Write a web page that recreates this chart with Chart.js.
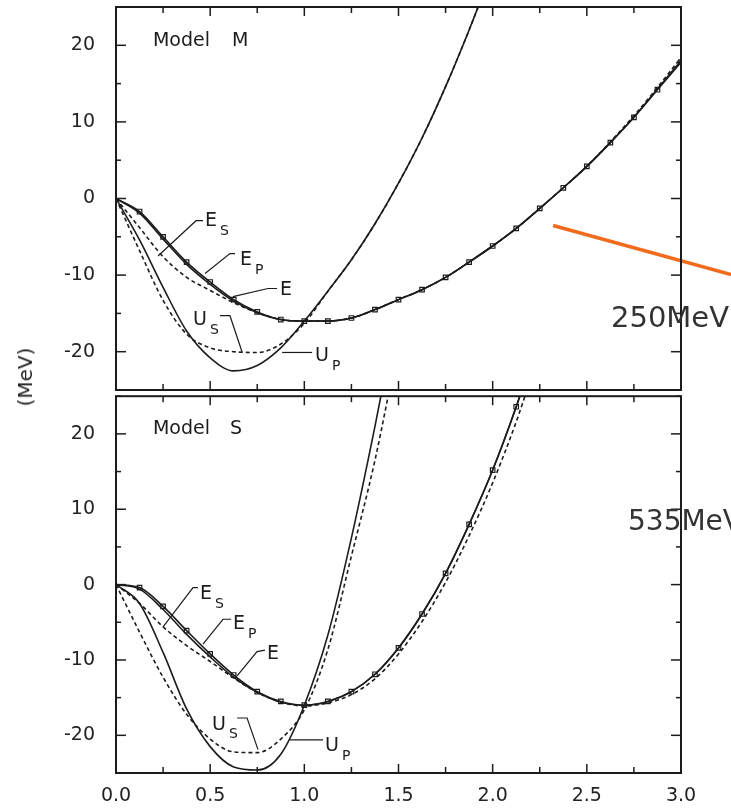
<!DOCTYPE html>
<html>
<head>
<meta charset="utf-8">
<title>Model M / Model S</title>
<script src="https://cdn.jsdelivr.net/npm/chart.js@4.4.0/dist/chart.umd.min.js"></script>
<style>
  html, body { margin: 0; padding: 0; background: #fff; }
  body { width: 731px; height: 810px; position: relative; overflow: hidden; font-family: 'DejaVu Sans', sans-serif; }
  .panel { position: absolute; left: 0; width: 731px; }
  #topPanel { top: 0; height: 400px; }
  #botPanel { top: 391px; height: 419px; }
  .note { position: absolute; color: #333; white-space: nowrap; z-index: 2; }
  #unit { left: 25px; top: 377px; font-size: 20px; color: #222; transform: translate(-50%, -50%) rotate(-90deg); }
</style>
</head>
<body>
<div class="panel" id="topPanel"><canvas id="chartM"></canvas></div>
<div class="panel" id="botPanel"><canvas id="chartS"></canvas></div>
<div class="note" id="unit">(MeV)</div>
<div class="note" style="left:611px; top:300px; font-size:29px; line-height:34px;">250MeV</div>
<div class="note" style="left:628px; top:504px; font-size:28px; line-height:33px;">535MeV</div>
<script>
// x grid shared by every curve (step 0.125)
const xs = [0, 0.125, 0.25, 0.375, 0.5, 0.625, 0.75, 0.875, 1.0, 1.125, 1.25, 1.375, 1.5,
  1.625, 1.75, 1.875, 2.0, 2.125, 2.25, 2.375, 2.5, 2.625, 2.75, 2.875, 3.0];
const xTicks = [0, 0.5, 1.0, 1.5, 2.0, 2.5, 3.0];
const yTicks = [-20, -10, 0, 10, 20];

// Model M
const mE  = [0, -1.7, -5.0, -8.3, -10.9, -13.2, -14.8, -15.8, -16.0, -16.0, -15.6, -14.5, -13.2,
  -11.9, -10.3, -8.3, -6.2, -3.9, -1.3, 1.4, 4.2, 7.3, 10.6, 14.2, 17.8];
const mEp = [0, -1.9, -5.3, -8.6, -11.2, -13.4, -14.9, -15.8, -16.0, -16.0, -15.6, -14.5, -13.2,
  -11.9, -10.3, -8.3, -6.2, -3.9, -1.3, 1.4, 4.2, 7.3, 10.6, 14.3, 18.0];
const mEs = [0, -3.8, -7.6, -10.3, -12.0, -13.6, -14.9, -15.8, -16.0, -16.0, -15.6, -14.5, -13.2,
  -11.9, -10.3, -8.3, -6.2, -3.9, -1.3, 1.4, 4.2, 7.4, 10.8, 14.5, 18.4];
const mUp = [0, -5.4, -11.6, -17.3, -20.8, -22.5, -21.8, -19.5, -16.0, -12.1, -8.0, -3.3, 2.0,
  7.9, 14.6, 22.0, 30.0];
const mUs = [0, -6.8, -13.3, -17.7, -19.5, -20.0, -20.1, -19.0, -16.3, -12.1, -8.0, -3.3, 2.0,
  7.9, 14.6, 22.0, 30.0];

// Model S
const sE  = [0, -0.4, -2.9, -6.1, -9.2, -12.0, -14.2, -15.5, -16.0, -15.5, -14.2, -11.9, -8.4,
  -3.9, 1.5, 8.0, 15.2, 23.6, 33.0];
const sEp = [0, -0.6, -3.3, -6.6, -9.6, -12.3, -14.3, -15.6, -16.0, -15.5, -14.2, -11.9, -8.4,
  -3.9, 1.5, 8.0, 15.2, 23.6, 33.0];
const sEs = [0, -2.5, -5.6, -8.1, -10.2, -12.4, -14.3, -15.6, -16.1, -15.7, -14.6, -12.5, -9.2,
  -4.9, 0.3, 6.5, 13.5, 21.6, 31.0];
const sUp = [0, -2.5, -9.0, -16.5, -21.5, -24.2, -24.6, -22.5, -16.0, -6.7, 6.2, 21.0, 37.0];
const sUs = [0, -6.3, -12.3, -17.2, -20.5, -22.2, -22.3, -20.5, -16.6, -8.6, 3.8, 16.5, 32.0];

const INK = '#1c1c1c';
const FONT = 'DejaVu Sans';

//------------------frame, inward ticks and curve labels------------------
const panelNotes = {
  id: 'panelNotes',
  afterDraw(chart, args, opts) {
    const { ctx, chartArea: a } = chart;
    const x = chart.scales.x, y = chart.scales.y;
    const px = (v) => x.getPixelForValue(v);
    const py = (v) => y.getPixelForValue(v);
    ctx.save();
    ctx.fillStyle = INK;
    ctx.strokeStyle = INK;
    ctx.textBaseline = 'middle';

    // model name
    ctx.font = `19px ${FONT}`;
    opts.model.forEach((m) => ctx.fillText(m.text, px(m.at[0]), py(m.at[1])));

    // curve labels with their pointer lines
    ctx.lineWidth = 1.2;
    opts.labels.forEach((n) => {
      ctx.beginPath();
      n.leader.forEach(([vx, vy], i) => (i ? ctx.lineTo(px(vx), py(vy)) : ctx.moveTo(px(vx), py(vy))));
      ctx.stroke();
      ctx.font = `19px ${FONT}`;
      ctx.fillText(n.main, px(n.at[0]), py(n.at[1]));
      if (n.sub) {
        const w = ctx.measureText(n.main).width;
        ctx.font = `14px ${FONT}`;
        ctx.fillText(n.sub, px(n.at[0]) + w + 3, py(n.at[1]) + 10);
      }
    });

    // orange pointer
    if (opts.pointer) {
      const [p0, p1] = opts.pointer;
      ctx.strokeStyle = '#f26a1b';
      ctx.lineWidth = 3.5;
      ctx.beginPath();
      ctx.moveTo(px(p0[0]), py(p0[1]));
      ctx.lineTo(px(p1[0]), py(p1[1]));
      ctx.stroke();
      ctx.strokeStyle = INK;
    }

    // box
    ctx.lineWidth = 2;
    ctx.strokeRect(a.left, a.top, a.right - a.left, a.bottom - a.top);

    // ticks pointing inward on all four sides
    ctx.lineWidth = 1.5;
    const seg = (x0, y0, x1, y1) => { ctx.beginPath(); ctx.moveTo(x0, y0); ctx.lineTo(x1, y1); ctx.stroke(); };
    for (let v = -25; v <= 25; v += 5) {
      const len = v % 10 === 0 ? 10 : 5;
      seg(a.left, py(v), a.left + len, py(v));
      seg(a.right, py(v), a.right - len, py(v));
    }
    for (let k = 0; k <= 12; k++) {
      const len = k % 2 === 0 ? 9 : 6;
      const tx = px(k * 0.25);
      seg(tx, a.top, tx, a.top + len);
      seg(tx, a.bottom, tx, a.bottom - len);
    }
    ctx.restore();
  },
};

const line = (values, opts = {}) => ({
  data: values.map((v, i) => ({ x: xs[i], y: v })),
  borderColor: INK,
  borderWidth: opts.width || 1.6,
  borderDash: opts.dash || [],
  pointStyle: 'rect',
  pointRadius: opts.markers ? (c) => (c.dataIndex === 0 ? 0 : 3.2) : 0,
  pointBorderColor: INK,
  pointBackgroundColor: 'rgba(255,255,255,0)',
  pointBorderWidth: 1.2,
  cubicInterpolationMode: 'monotone',
  fill: false,
});

const makePanel = (id, datasets, notes, showX) =>
  new Chart(document.getElementById(id), {
    type: 'line',
    data: { datasets },
    plugins: [panelNotes],
    options: {
      responsive: true,
      maintainAspectRatio: false,
      animation: false,
      events: [],
      layout: { padding: showX ? { top: 1, right: 50, left: 0, bottom: 0 } : { top: 7, right: 50, left: 0, bottom: 10 } },
      plugins: { legend: { display: false }, tooltip: { enabled: false }, panelNotes: notes },
      scales: {
        x: {
          type: 'linear', min: 0, max: 3, display: showX,
          grid: { display: false, drawTicks: false }, border: { display: false },
          afterBuildTicks: (ax) => { ax.ticks = xTicks.map((v) => ({ value: v })); },
          afterFit: (ax) => {
            ax.height = showX ? 37 : 0;
            ax.paddingLeft = 0;
            ax.paddingRight = 0;
          },
          ticks: { padding: 12, color: '#222', font: { family: FONT, size: 19 }, callback: (v) => Number(v).toFixed(1) },
        },
        y: {
          type: 'linear', min: -25, max: 25,
          grid: { display: false, drawTicks: false }, border: { display: false },
          afterBuildTicks: (ax) => { ax.ticks = yTicks.map((v) => ({ value: v })); },
          afterFit: (ax) => {
            ax.width = 116;
            ax.paddingTop = 0;
            ax.paddingBottom = 0;
          },
          ticks: { padding: 21, color: '#222', font: { family: FONT, size: 19 } },
        },
      },
    },
  });

makePanel('chartM', [
  line(mUs, { dash: [4, 3] }),
  line(mEs, { dash: [4, 3] }),
  line(mUp),
  line(mEp),
  line(mE, { markers: true }),
], {
  model: [{ text: 'Model', at: [0.196, 20.5] }, { text: 'M', at: [0.616, 20.5] }],
  labels: [
    { main: 'E', sub: 'S', at: [0.473, -3.0], leader: [[0.462, -2.9], [0.425, -2.9], [0.223, -7.5]] },
    { main: 'E', sub: 'P', at: [0.659, -8.1], leader: [[0.632, -7.2], [0.605, -7.2], [0.473, -9.8]] },
    { main: 'E', at: [0.871, -12.0], leader: [[0.855, -11.75], [0.807, -11.75], [0.621, -12.8]] },
    { main: 'U', sub: 'S', at: [0.409, -15.9], leader: [[0.552, -15.3], [0.605, -15.3], [0.669, -20.0]] },
    { main: 'U', sub: 'P', at: [1.057, -20.6], leader: [[1.041, -20.1], [0.882, -20.1]] },
  ],
  pointer: [[2.321, -3.52], [3.266, -9.92]],
}, false);

makePanel('chartS', [
  line(sUs, { dash: [4, 3] }),
  line(sEs, { dash: [4, 3] }),
  line(sUp),
  line(sEp),
  line(sE, { markers: true }),
], {
  model: [{ text: 'Model', at: [0.196, 20.6] }, { text: 'S', at: [0.605, 20.6] }],
  labels: [
    { main: 'E', sub: 'S', at: [0.446, -1.3], leader: [[0.435, -0.4], [0.409, -0.4], [0.25, -5.6]] },
    { main: 'E', sub: 'P', at: [0.621, -5.25], leader: [[0.611, -4.6], [0.568, -4.6], [0.462, -7.9]] },
    { main: 'E', at: [0.802, -9.2], leader: [[0.791, -8.7], [0.749, -8.9], [0.643, -12.1]] },
    { main: 'U', sub: 'S', at: [0.51, -18.6], leader: [[0.643, -17.7], [0.696, -17.7], [0.754, -21.9]] },
    { main: 'U', sub: 'P', at: [1.11, -21.4], leader: [[1.099, -20.6], [0.924, -20.6]] },
  ],
}, true);
</script>
</body>
</html>
